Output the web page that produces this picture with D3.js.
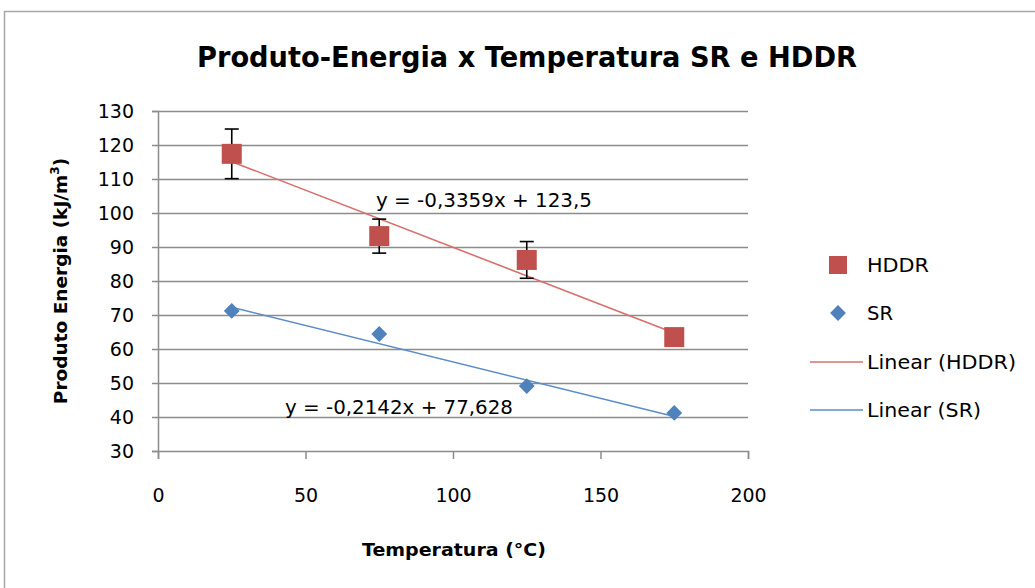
<!DOCTYPE html>
<html>
<head>
<meta charset="utf-8">
<script src="https://cdn.jsdelivr.net/npm/d3@7"></script>
<style>
  body { margin: 0; background: #fff; }
  text { font-family: "DejaVu Sans", Verdana, sans-serif; fill: #000; }
</style>
</head>
<body>
<div id="chart"></div>
<script>
// data
const temps = [25, 75, 125, 175];
const hddr = [117.4, 93.2, 86.2, 63.5];
const hddrErr = [7.3, 5, 5.4, 0];
const sr = [71.2, 64.4, 49.1, 41.2];
const hddrFit = [-0.3359, 123.5];
const srFit = [-0.2142, 77.628];
const hddrEq = "y = -0,3359x + 123,5";
const srEq = "y = -0,2142x + 77,628";
const xTicks = [0, 50, 100, 150, 200];
const yTicks = [30, 40, 50, 60, 70, 80, 90, 100, 110, 120, 130];
const legendNames = ["HDDR", "SR", "Linear (HDDR)", "Linear (SR)"];

const width = 1035, height = 588;
const red = "#c0504d", blue = "#4f81bd";
const redLine = "#d8706d", blueLine = "#5b8cc8";
const font = "DejaVu Sans, Verdana, sans-serif";

const svg = d3.select("#chart").append("svg")
  .attr("width", width).attr("height", height);

// chart border
svg.append("rect")
  .attr("x", 4.5).attr("y", 11.5)
  .attr("width", width + 10).attr("height", height)
  .attr("fill", "#fff").attr("stroke", "#a6a6a6").attr("stroke-width", 1.5);

const x = d3.scaleLinear().domain([0, 200]).range([158, 748]);
const y = d3.scaleLinear().domain([30, 130]).range([451, 111]);

// gridlines
svg.append("g").selectAll("line")
  .data(yTicks.slice(1))
  .join("line")
    .attr("x1", x(0)).attr("x2", x(200))
    .attr("y1", d => y(d) + 0.5).attr("y2", d => y(d) + 0.5)
    .attr("stroke", "#8c8c8c").attr("stroke-width", 1.5);

// axes
const yAxis = svg.append("g")
  .attr("transform", `translate(${x(0)},0)`)
  .call(d3.axisLeft(y).tickValues(yTicks).tickSize(6).tickPadding(18));
const xAxis = svg.append("g")
  .attr("transform", `translate(0,${y(30)})`)
  .call(d3.axisBottom(x).tickValues(xTicks).tickSize(8).tickPadding(30));
[yAxis, xAxis].forEach(g => {
  g.select(".domain").attr("stroke", "#8c8c8c").attr("stroke-width", 1.5);
  g.selectAll(".tick line").attr("stroke", "#8c8c8c").attr("stroke-width", 1.5);
  g.selectAll("text").attr("font-size", 19).attr("font-family", font).attr("fill", "#000");
});

// trend lines
const fitLine = (fit) => d3.line()
  .x(d => x(d))
  .y(d => y(fit[0] * d + fit[1]));
svg.append("path").datum([temps[0], temps[3]])
  .attr("d", fitLine(hddrFit)).attr("fill", "none")
  .attr("stroke", redLine).attr("stroke-width", 1.6);
svg.append("path").datum([temps[0], temps[3]])
  .attr("d", fitLine(srFit)).attr("fill", "none")
  .attr("stroke", blueLine).attr("stroke-width", 1.6);

// error bars
const eb = svg.append("g").attr("stroke", "#000").attr("stroke-width", 1.6);
temps.forEach((t, i) => {
  if (!hddrErr[i]) return;
  const cx = x(t), y1 = y(hddr[i] + hddrErr[i]), y2 = y(hddr[i] - hddrErr[i]);
  eb.append("line").attr("x1", cx).attr("x2", cx).attr("y1", y1).attr("y2", y2);
  eb.append("line").attr("x1", cx - 7).attr("x2", cx + 7).attr("y1", y1).attr("y2", y1);
  eb.append("line").attr("x1", cx - 7).attr("x2", cx + 7).attr("y1", y2).attr("y2", y2);
});

// markers
svg.append("g").selectAll("rect")
  .data(temps.map((t, i) => [t, hddr[i]]))
  .join("rect")
    .attr("x", d => x(d[0]) - 10).attr("y", d => y(d[1]) - 10)
    .attr("width", 20).attr("height", 20).attr("fill", red);
const diamond = d3.symbol().type(d3.symbolDiamond2).size(160);
svg.append("g").selectAll("path")
  .data(temps.map((t, i) => [t, sr[i]]))
  .join("path")
    .attr("transform", d => `translate(${x(d[0])},${y(d[1])})`)
    .attr("d", diamond).attr("fill", blue);

// equations
svg.append("text").attr("x", 376).attr("y", 207).attr("font-size", 19)
  .attr("textLength", 216).attr("lengthAdjust", "spacingAndGlyphs").text(hddrEq);
svg.append("text").attr("x", 285).attr("y", 414).attr("font-size", 19)
  .attr("textLength", 228).attr("lengthAdjust", "spacingAndGlyphs").text(srEq);

// title and axis titles
svg.append("text").attr("x", 527).attr("y", 67)
  .attr("text-anchor", "middle").attr("font-size", 28).attr("font-weight", "bold")
  .attr("textLength", 660).attr("lengthAdjust", "spacingAndGlyphs")
  .text("Produto-Energia x Temperatura SR e HDDR");
svg.append("text").attr("x", 454).attr("y", 556)
  .attr("text-anchor", "middle").attr("font-size", 18).attr("font-weight", "bold")
  .attr("textLength", 184).attr("lengthAdjust", "spacingAndGlyphs")
  .text("Temperatura (°C)");
const yt = svg.append("text")
  .attr("transform", "translate(67,281) rotate(-90)")
  .attr("text-anchor", "middle").attr("font-size", 18.5).attr("font-weight", "bold");
yt.append("tspan").text("Produto Energia  (kJ/m");
yt.append("tspan").attr("font-size", 12).attr("dy", -8).text("3");
yt.append("tspan").attr("dy", 8).text(")");

// legend
const lg = svg.append("g");
const ly = [265, 313, 362, 410];
const legW = [62, 26, 149, 114];
lg.append("rect").attr("x", 829).attr("y", ly[0] - 9).attr("width", 18).attr("height", 18).attr("fill", red);
lg.append("path").attr("transform", `translate(838,${ly[1]})`).attr("d", diamond).attr("fill", blue);
lg.append("line").attr("x1", 810).attr("x2", 863).attr("y1", ly[2]).attr("y2", ly[2])
  .attr("stroke", redLine).attr("stroke-width", 1.6);
lg.append("line").attr("x1", 810).attr("x2", 863).attr("y1", ly[3]).attr("y2", ly[3])
  .attr("stroke", blueLine).attr("stroke-width", 1.6);
lg.selectAll("text.leg")
  .data(legendNames)
  .join("text")
    .attr("class", "leg")
    .attr("x", 867)
    .attr("y", (d, i) => ly[i] + 7)
    .attr("font-size", 19)
    .attr("textLength", (d, i) => legW[i]).attr("lengthAdjust", "spacingAndGlyphs")
    .text(d => d);
</script>
</body>
</html>
